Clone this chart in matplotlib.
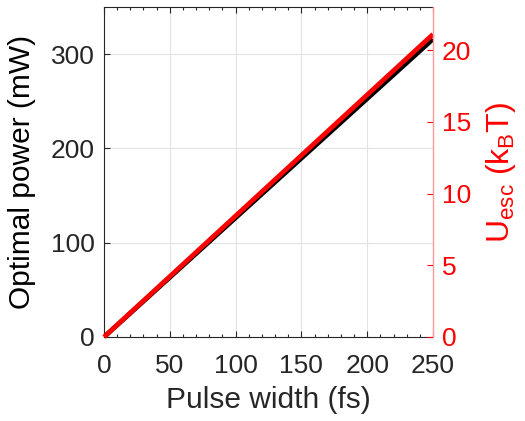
import matplotlib
matplotlib.use("Agg")
import matplotlib.pyplot as plt
import numpy as np

plt.rcParams['font.family'] = ['Liberation Sans', 'DejaVu Sans']
plt.rcParams['mathtext.default'] = 'regular'

pulse_width = [0, 50, 100, 150, 200, 250]
optimal_power = [0, 63.2, 126.4, 189.6, 252.8, 316]
u_esc = [0, 4.22, 8.44, 12.66, 16.88, 21.1]

x_ticks = [0, 50, 100, 150, 200, 250]
left_ticks = [0, 100, 200, 300]
right_ticks = [0, 5, 10, 15, 20]

fig = plt.figure(figsize=(5.25, 4.21), dpi=100)
ax = fig.add_axes([104/525, 1-337/421, (433-104)/525, (337-7)/421])
ax2 = ax.twinx()

gray = '#262626'
tick_fs = 19
label_fs = 21.5
ax.plot(pulse_width, optimal_power, color='black', lw=3.4, solid_capstyle='butt')
ax.set_xlim(0, 250)
ax.set_ylim(0, 350)
ax.set_xticks(x_ticks)
ax.set_xticks(np.arange(0, 251, 10), minor=True)
ax.set_yticks(left_ticks)
ax.grid(True, which='major', color='#e3e3e3', lw=0.8)
ax.set_axisbelow(True)
ax.tick_params(axis='both', which='both', direction='in', colors=gray, labelsize=tick_fs,
               top=True, right=False)
ax.tick_params(axis='both', which='major', length=4, width=0.8)
ax.tick_params(axis='x', which='minor', length=2.5, width=0.8)
ax.tick_params(axis='x', which='major', pad=12)
ax.tick_params(axis='y', which='major', pad=6.5)
ax.set_xlabel('Pulse width (fs)', fontsize=label_fs, color=gray, labelpad=6)
ax.set_ylabel('Optimal power (mW)', fontsize=label_fs, color='black', labelpad=11)
for s in ['left', 'bottom', 'top']:
    ax.spines[s].set_color(gray)
    ax.spines[s].set_linewidth(0.8)
ax.spines['right'].set_visible(False)

ax2.plot(pulse_width, u_esc, color='#ff0000', lw=3.4, solid_capstyle='butt', clip_on=False)
ax2.set_ylim(0, 23)
ax2.set_yticks(right_ticks)
ax2.tick_params(axis='y', direction='in', colors='#ff0000', labelsize=tick_fs, length=4,
                width=0.8, pad=6.5)
ax2.set_ylabel(r'U$_{esc}$ (k$_{B}$T)', fontsize=23, color='#ff0000', labelpad=9)
ax2.spines['right'].set_color('#ff9a9a')
ax2.spines['right'].set_linewidth(1.0)
for s in ['left', 'bottom', 'top']:
    ax2.spines[s].set_visible(False)

fig.savefig('out.png', dpi=100)
